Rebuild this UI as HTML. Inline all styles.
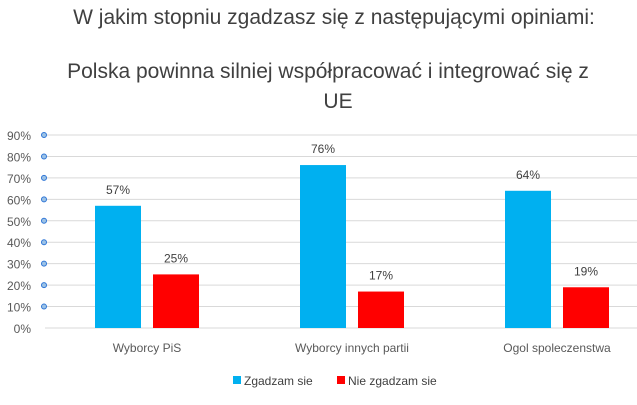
<!DOCTYPE html>
<html><head><meta charset="utf-8"><style>
body{margin:0;background:#fff;font-family:"Liberation Sans",sans-serif;}
svg text{font-family:"Liberation Sans",sans-serif;}
</style></head><body>
<svg id="c" width="637" height="400">
<text x="334" y="24" text-anchor="middle" font-size="21" fill="#404040">W jakim stopniu zgadzasz się z następującymi opiniami:</text>
<text x="328" y="78" text-anchor="middle" font-size="21" fill="#404040">Polska powinna silniej współpracować i integrować się z</text>
<text x="338" y="108" text-anchor="middle" font-size="21" fill="#404040">UE</text>
<g id="grid"></g><g id="bars"></g><g id="labels"></g>
<g>
<rect x="233" y="376" width="8" height="8" fill="#00b0f0"/>
<text x="244" y="385" font-size="12" fill="#404040">Zgadzam sie</text>
<rect x="337" y="376" width="8" height="8" fill="#ff0000"/>
<text x="348" y="385" font-size="12" fill="#404040">Nie zgadzam sie</text>
</g>
</svg>
<script>
const categories=["Wyborcy PiS","Wyborcy innych partii","Ogol spoleczenstwa"];
const agree=[57,76,64];
const disagree=[25,17,19];
const ticks=[0,10,20,30,40,50,60,70,80,90];
const NS="http://www.w3.org/2000/svg";
const x0=45,x1=637,y0=328,pxPer=2.144;
const catStart=44.5,catW=205;
const y=v=>y0-v*pxPer;
function mk(tag,attrs,parent,txt){const e=document.createElementNS(NS,tag);for(const k in attrs)e.setAttribute(k,attrs[k]);if(txt!==undefined)e.textContent=txt;document.getElementById(parent).appendChild(e);return e;}
ticks.forEach(t=>{
 const l=mk("line",{x1:x0,x2:x1,y1:y(t),y2:y(t),stroke:"#d9d9d9","stroke-width":1},"grid");
 
 
 const tx=mk("text",{x:31,y:y(t)+5,"text-anchor":"end","font-size":12,fill:"#595959"},"grid",t+"%");
 
 
 if(t>0){const d=mk("circle",{cx:44,cy:y(t),r:2.5,fill:"#9dc3e6",stroke:"#2e75d6","stroke-width":1},"grid");
 
 }
});
categories.forEach((c,i)=>{
 const cx=catStart+catW*(i+0.5);
 [[agree[i],"#00b0f0",cx-52,"agree"],[disagree[i],"#ff0000",cx+6,"disagree"]].forEach(([v,col,bx,s])=>{
  const r=mk("rect",{x:bx,y:y(v),width:46,height:v*pxPer,fill:col},"bars");
  
  
  const t=mk("text",{x:bx+23,y:y(v)-12,"text-anchor":"middle","font-size":12,fill:"#404040"},"labels",v+"%");
  
  
 });
 const ct=mk("text",{x:cx,y:352,"text-anchor":"middle","font-size":12,fill:"#595959"},"labels",c);
 
 
});
</script>
</body></html>
